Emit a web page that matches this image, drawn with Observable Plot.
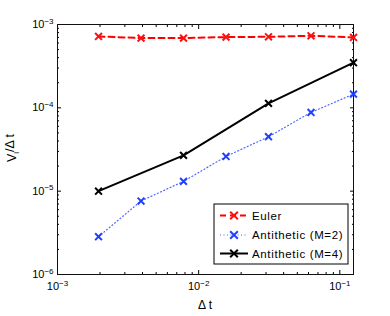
<!DOCTYPE html>
<html><head><meta charset="utf-8">
<script src="https://cdn.jsdelivr.net/npm/d3@7"></script>
<script src="https://cdn.jsdelivr.net/npm/@observablehq/plot@0.6"></script>
<style>body{margin:0;background:#fff;font-family:"Liberation Sans",Arial,sans-serif}</style>
</head><body><div id="chart"></div>
<script>
const dt = [0.001953125, 0.00390625, 0.0078125, 0.015625, 0.03125, 0.0625, 0.125];
const euler = [7.18e-4, 6.87e-4, 6.87e-4, 7.06e-4, 7.12e-4, 7.32e-4, 6.99e-4];
const anti2 = [2.84e-6, 7.62e-6, 1.31e-5, 2.61e-5, 4.50e-5, 8.81e-5, 1.46e-4];
const dt4 = [0.001953125, 0.0078125, 0.03125, 0.125];
const anti4 = [1.00e-5, 2.69e-5, 1.13e-4, 3.48e-4];
const seriesNames = ["Euler", "Antithetic (M=2)", "Antithetic (M=4)"];
const xTicks = [1e-3, 1e-2, 1e-1];
const yTicks = [1e-6, 1e-5, 1e-4, 1e-3];
const xDomain = [1e-3, 0.125];
const yDomain = [1e-6, 1e-3];

const minor = (lo, hi) => {
  const out = [];
  for (let e = Math.floor(Math.log10(lo)); e <= Math.ceil(Math.log10(hi)); e++)
    for (let m = 2; m <= 9; m++) { const v = m * Math.pow(10, e); if (v > lo && v < hi) out.push(v); }
  return out;
};

const styles = [
  {name: seriesNames[0], x: dt, y: euler, color: "#ff0000", dash: "6,4", w: 2, mcolor: "#ff1010"},
  {name: seriesNames[1], x: dt, y: anti2, color: "#4a66ff", dash: "1,2.5", w: 1.2, mcolor: "#2040ff"},
  {name: seriesNames[2], x: dt4, y: anti4, color: "#000000", dash: null, w: 2, mcolor: "#000000"}
];
const rows = styles.flatMap(s => s.x.map((x, i) => ({series: s.name, x, y: s.y[i]})));
const fmt = d => "10^" + Math.round(Math.log10(d));
const none = () => "";

const marks = [];
for (const s of styles) {
  const d = rows.filter(r => r.series === s.name);
  marks.push(Plot.line(d, {x: "x", y: "y", stroke: s.color, strokeWidth: s.w, strokeDasharray: s.dash}));
  marks.push(Plot.dot(d, {x: "x", y: "y", symbol: "times", r: 3.2, stroke: s.mcolor, strokeWidth: 2}));
}

const chart = Plot.plot({
  width: 390, height: 316,
  marginLeft: 57, marginRight: 37, marginTop: 24, marginBottom: 42,
  style: {fontFamily: "Liberation Sans, Arial, sans-serif", fontSize: "11px", background: "#fff"},
  x: {type: "log", domain: xDomain},
  y: {type: "log", domain: yDomain},
  marks: [
    Plot.axisX({anchor: "bottom", ticks: xTicks, tickSize: -4, tickPadding: 12, tickFormat: fmt, label: null}),
    Plot.axisX({anchor: "bottom", ticks: minor(...xDomain), tickSize: -2, tickFormat: none, label: null}),
    Plot.axisX({anchor: "top", ticks: xTicks, tickSize: -4, tickFormat: none, label: null}),
    Plot.axisX({anchor: "top", ticks: minor(...xDomain), tickSize: -2, tickFormat: none, label: null}),
    Plot.axisY({anchor: "left", ticks: yTicks, tickSize: -4, tickPadding: 8, tickFormat: fmt, label: null}),
    Plot.axisY({anchor: "left", ticks: minor(...yDomain), tickSize: -2, tickFormat: none, label: null}),
    Plot.axisY({anchor: "right", ticks: yTicks, tickSize: -4, tickFormat: none, label: null}),
    Plot.axisY({anchor: "right", ticks: minor(...yDomain), tickSize: -2, tickFormat: none, label: null}),
    Plot.frame({stroke: "#111"}),
    ...marks
  ]
});
document.getElementById("chart").appendChild(chart);

const svg = d3.select(chart);
svg.selectAll("text").each(function() {
  const t = d3.select(this);
  const s = t.text();
  if (s.startsWith("10^")) {
    const exp = s.slice(3).replace("-", "\u2212");
    t.text("");
    t.append("tspan").text("10");
    t.append("tspan").attr("dy", "-0.55em").attr("font-size", "8px").text(exp);
  }
});
svg.selectAll("text").attr("fill", "#000");

// axis titles
svg.append("text").attr("x", 205).attr("y", 309).attr("text-anchor", "middle")
  .attr("font-size", "12px").attr("fill", "#000").text("\u0394 t");
const yl = svg.append("text").attr("transform", "translate(16,148) rotate(-90)")
  .attr("text-anchor", "middle").attr("font-size", "12.5px").attr("fill", "#000");
yl.append("tspan").text("V");
yl.append("tspan").attr("font-size", "8px").attr("dy", "0.35em").text("l");
yl.append("tspan").attr("dy", "-0.35em").text("/\u0394 t");

// legend
const lg = svg.append("g");
lg.append("rect").attr("x", 214).attr("y", 204).attr("width", 134).attr("height", 60)
  .attr("fill", "#fff").attr("stroke", "#000").attr("stroke-width", 1);
const ly = [215.5, 235, 253.5];
styles.forEach((s, i) => {
  lg.append("line").attr("x1", 220).attr("x2", 248).attr("y1", ly[i]).attr("y2", ly[i])
    .attr("stroke", s.color).attr("stroke-width", s.w).attr("stroke-dasharray", s.dash);
  lg.append("path").attr("d", d3.symbol(d3.symbolTimes, 40)()).attr("transform", `translate(234,${ly[i]})`)
    .attr("stroke", s.mcolor).attr("stroke-width", 2).attr("fill", "none");
  lg.append("text").attr("x", 252).attr("y", ly[i]).attr("dy", "0.36em").attr("font-size", "11.5px")
    .attr("letter-spacing", "0.65px")
    .attr("text-anchor", "start").attr("fill", "#000").text(s.name);
});
</script></body></html>
